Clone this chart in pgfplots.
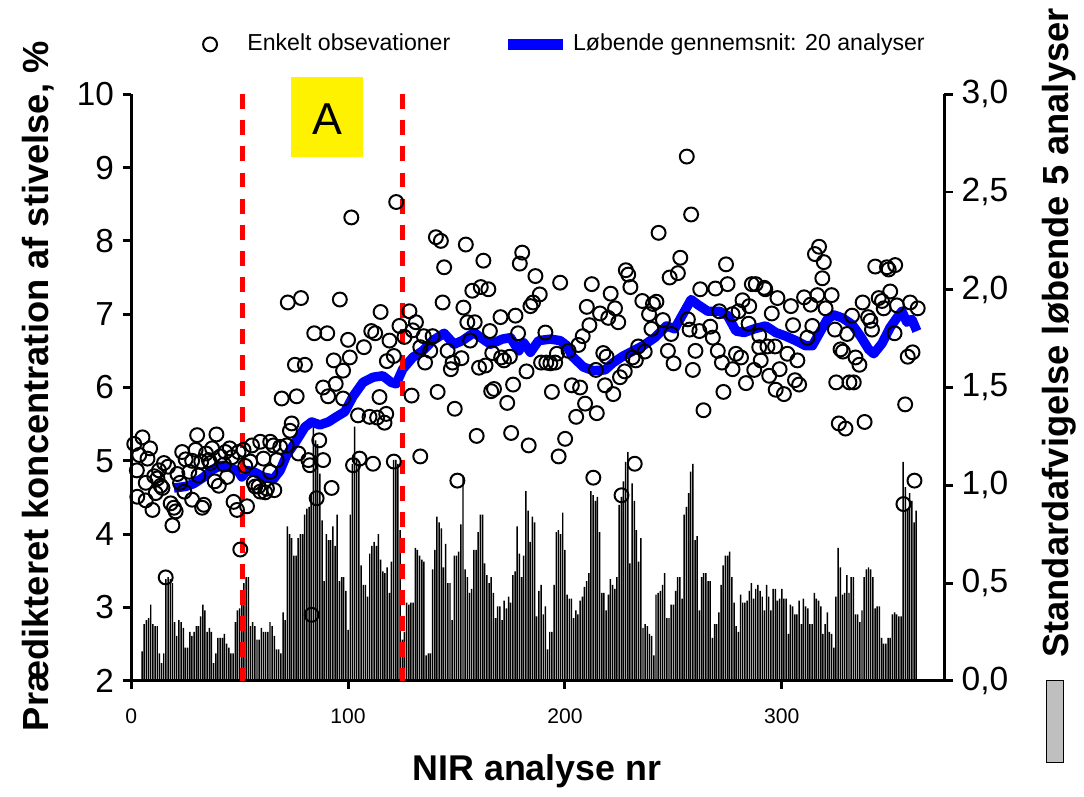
\documentclass[border=0pt]{standalone}
\usepackage{fontspec}
\setmainfont{Liberation Sans}
\usepackage{pgfplots}
\usepackage{pgfplotstable}
\pgfplotsset{compat=1.18}

\pgfplotsset{
  circlegend/.style={legend image code/.code={
    \draw[##1] plot coordinates {(0pt,0pt)};
    \path[draw=none] (-3pt,0pt) -- (13pt,0pt);}},
  linelegend/.style={legend image code/.code={
    \draw[##1, line width=4.4pt] (0pt,0pt) -- (22pt,0pt);}},
}

% enkelte observationer (analyse nr, stivelse %)
\pgfplotstableread[row sep=\\]{
x y\\
1.4 5.23\\ 2.6 4.87\\ 2.8 4.51\\ 3.7 5.08\\ 5.2 5.32\\ 6.7 4.70\\ 6.7 4.46\\ 7.5 5.03\\ 8.7 5.17\\ 9.8 4.33\\
10.6 4.79\\ 11.3 4.56\\ 12.1 4.76\\ 12.8 4.87\\ 13.6 4.66\\ 14.4 4.63\\ 15.1 4.97\\ 15.9 3.41\\ 17.0 4.92\\ 18.2 4.42\\
19.0 4.12\\ 19.7 4.36\\ 20.5 4.31\\ 21.3 4.82\\ 22.5 4.70\\ 23.5 5.12\\ 24.5 4.58\\ 25.1 5.02\\ 26.8 4.85\\ 28.1 5.00\\
28.1 4.47\\ 29.7 5.15\\ 30.4 5.35\\ 31.0 4.80\\ 32.3 4.99\\ 32.7 4.36\\ 33.5 4.40\\ 34.5 5.10\\ 35.8 5.01\\ 36.5 4.97\\
37.3 5.17\\ 38.5 4.72\\ 39.3 5.36\\ 40.4 4.66\\ 41.1 5.06\\ 42.8 4.95\\ 43.4 5.12\\ 44.2 4.78\\ 45.4 5.17\\ 46.5 5.05\\
47.2 4.44\\ 48.8 4.33\\ 49.5 5.12\\ 50.3 3.79\\ 51.8 5.15\\ 52.6 4.93\\ 53.4 4.38\\ 54.9 4.99\\ 55.7 5.21\\ 56.5 4.70\\
57.2 4.65\\ 58.7 4.65\\ 59.5 5.26\\ 59.5 4.58\\ 61.0 5.03\\ 61.8 4.57\\ 62.6 4.62\\ 64.1 5.26\\ 64.1 4.85\\ 65.6 5.21\\
66.0 4.60\\ 67.1 5.01\\ 68.7 5.19\\ 69.4 5.85\\ 71.7 5.21\\ 72.2 7.16\\ 73.2 5.41\\ 74.0 5.51\\ 75.5 6.31\\ 76.3 5.88\\
77.1 5.10\\ 78.3 7.22\\ 80.1 6.31\\ 81.7 5.01\\ 82.4 4.94\\ 83.2 2.90\\ 84.4 6.74\\ 85.5 4.49\\ 86.7 5.28\\ 88.5 6.00\\
88.5 5.01\\ 90.4 6.74\\ 90.8 5.88\\ 92.4 4.63\\ 93.4 6.37\\ 94.3 6.05\\ 96.2 7.20\\ 97.7 6.23\\ 97.7 5.85\\ 100.0 6.65\\
100.8 6.41\\ 101.5 8.32\\ 102.3 4.94\\ 104.6 5.62\\ 105.3 5.03\\ 107.3 6.55\\ 109.9 5.60\\ 110.7 6.77\\ 111.5 4.96\\ 112.5 6.74\\
113.4 5.59\\ 114.5 5.87\\ 115.0 7.03\\ 116.8 5.52\\ 117.6 5.64\\ 117.9 6.36\\ 119.1 6.64\\ 121.1 6.43\\ 121.1 4.99\\ 122.2 8.53\\
123.7 6.84\\ 126.0 6.69\\ 128.3 7.04\\ 129.3 5.89\\ 129.8 6.78\\ 131.3 6.89\\ 133.3 6.55\\ 133.3 5.06\\ 134.9 6.70\\ 135.5 6.34\\
137.9 6.50\\ 139.0 6.70\\ 140.5 8.05\\ 141.3 5.94\\ 142.8 8.00\\ 143.6 7.16\\ 144.3 7.64\\ 145.9 6.50\\ 147.4 6.25\\ 148.2 6.34\\
149.2 5.71\\ 150.4 4.73\\ 152.3 6.40\\ 153.2 7.09\\ 154.3 7.95\\ 155.0 6.89\\ 156.3 6.64\\ 157.3 7.32\\ 158.4 6.89\\ 159.3 5.34\\
160.4 6.27\\ 161.2 7.37\\ 162.4 7.73\\ 163.4 6.30\\ 164.7 7.34\\ 165.4 6.77\\ 166.0 5.95\\ 166.5 6.47\\ 167.3 5.98\\ 170.3 6.96\\
170.6 6.41\\ 171.9 6.37\\ 173.4 5.79\\ 174.6 6.42\\ 175.2 5.38\\ 176.1 6.04\\ 177.2 6.98\\ 178.4 6.74\\ 179.2 7.69\\ 180.3 7.84\\
182.3 6.22\\ 183.3 5.21\\ 184.1 7.11\\ 185.3 7.16\\ 186.4 7.52\\ 188.4 7.27\\ 189.0 6.34\\ 191.0 6.75\\ 191.4 6.34\\ 193.3 6.33\\
194.0 5.94\\ 195.5 6.34\\ 196.3 6.46\\ 197.1 5.06\\ 197.8 7.43\\ 200.1 5.30\\ 201.7 6.50\\ 203.2 6.03\\ 205.2 5.60\\ 206.2 6.58\\
207.0 6.00\\ 208.2 6.70\\ 209.3 5.78\\ 210.1 7.10\\ 211.3 6.85\\ 212.4 7.41\\ 213.1 4.77\\ 214.3 6.24\\ 214.7 5.65\\ 216.2 7.01\\
217.7 6.47\\ 218.5 6.03\\ 219.2 6.42\\ 220.0 6.95\\ 221.1 7.28\\ 222.3 5.91\\ 223.1 7.08\\ 224.6 6.89\\ 225.4 6.14\\ 226.1 4.53\\
227.6 6.22\\ 228.1 7.60\\ 229.2 7.54\\ 230.2 7.37\\ 231.2 6.41\\ 232.2 4.96\\ 232.7 6.37\\ 233.8 6.56\\ 235.7 7.18\\ 236.8 6.49\\
238.8 7.00\\ 239.9 6.80\\ 240.6 7.14\\ 242.2 7.17\\ 243.2 8.11\\ 245.2 6.92\\ 247.5 6.50\\ 248.3 7.50\\ 249.0 6.73\\ 250.1 6.33\\
252.1 7.56\\ 253.2 7.77\\ 256.2 9.15\\ 256.7 6.93\\ 257.5 6.79\\ 258.2 8.36\\ 259.0 6.24\\ 260.2 6.50\\ 262.0 6.77\\ 262.4 7.34\\
263.9 5.69\\ 267.0 6.83\\ 268.2 6.68\\ 269.4 7.35\\ 270.5 6.50\\ 271.2 7.04\\ 272.4 6.34\\ 273.1 5.94\\ 274.3 7.68\\ 275.0 7.41\\
277.3 7.00\\ 277.3 6.25\\ 278.9 6.46\\ 280.1 7.04\\ 281.2 6.41\\ 281.9 7.19\\ 283.5 6.06\\ 284.7 6.87\\ 285.0 7.11\\ 286.2 7.41\\
287.3 6.24\\ 288.0 7.41\\ 289.6 6.55\\ 289.6 6.71\\ 290.3 6.37\\ 291.9 7.36\\ 292.4 7.34\\ 293.4 6.56\\ 294.2 6.16\\ 295.4 7.01\\
296.9 6.56\\ 297.2 5.97\\ 298.0 7.22\\ 299.0 6.25\\ 301.0 5.91\\ 302.6 6.46\\ 304.2 7.11\\ 305.2 6.85\\ 306.1 6.10\\ 307.2 6.37\\
308.0 6.04\\ 310.3 7.23\\ 311.8 6.68\\ 313.3 7.13\\ 314.1 6.84\\ 315.3 7.82\\ 316.4 7.26\\ 317.2 7.92\\ 318.7 7.49\\ 319.4 7.71\\
320.2 7.08\\ 323.0 7.26\\ 324.5 6.79\\ 325.1 6.07\\ 326.3 5.51\\ 327.1 6.52\\ 328.2 6.49\\ 329.4 5.44\\ 330.1 6.73\\ 331.2 6.07\\
332.4 6.98\\ 333.2 6.07\\ 334.0 6.41\\ 335.8 6.31\\ 337.3 7.16\\ 338.2 5.53\\ 339.8 6.96\\ 340.9 6.91\\ 341.6 6.79\\ 343.1 7.65\\
344.7 7.22\\ 346.2 7.18\\ 347.0 7.08\\ 348.5 7.64\\ 349.3 7.61\\ 350.0 7.31\\ 352.0 6.74\\ 352.3 7.67\\ 353.1 7.12\\ 356.1 4.41\\
356.9 5.77\\ 358.1 6.42\\ 359.2 7.16\\ 360.3 6.48\\ 361.2 4.73\\ 362.7 7.08\\
}\obs

% løbende gennemsnit, 20 analyser
\pgfplotstableread[row sep=\\]{
x y\\
19.7 4.63\\ 25.1 4.65\\ 28.9 4.69\\ 33.5 4.78\\ 37.3 4.88\\ 41.9 4.94\\ 45.7 4.91\\ 49.5 4.85\\ 51.0 4.78\\ 53.4 4.87\\
57.2 4.84\\ 61.0 4.78\\ 65.6 4.75\\ 68.7 4.87\\ 71.7 5.08\\ 76.3 5.28\\ 80.1 5.46\\ 83.2 5.53\\ 87.0 5.49\\ 90.9 5.53\\
94.6 5.60\\ 98.5 5.67\\ 102.3 5.88\\ 106.9 6.07\\ 111.5 6.14\\ 116.0 6.16\\ 119.9 6.07\\ 122.2 6.05\\ 125.2 6.25\\ 129.8 6.41\\
134.4 6.50\\ 139.0 6.64\\ 144.3 6.74\\ 148.9 6.59\\ 152.7 6.64\\ 158.1 6.75\\ 161.2 6.68\\ 165.7 6.59\\ 171.1 6.66\\ 174.9 6.68\\
178.7 6.50\\ 181.0 6.61\\ 184.1 6.48\\ 187.9 6.64\\ 193.3 6.66\\ 197.8 6.64\\ 200.9 6.57\\ 203.2 6.43\\ 208.5 6.28\\ 213.1 6.23\\
218.5 6.24\\ 222.3 6.34\\ 226.9 6.43\\ 231.5 6.50\\ 236.0 6.57\\ 241.4 6.68\\ 246.8 6.84\\ 250.6 6.80\\ 254.4 7.00\\ 258.2 7.20\\
261.3 7.13\\ 265.9 7.04\\ 271.2 7.04\\ 275.0 6.98\\ 278.9 6.77\\ 282.7 6.75\\ 287.3 6.80\\ 292.6 6.84\\ 297.2 6.75\\ 301.9 6.70\\
306.4 6.64\\ 311.0 6.57\\ 314.1 6.57\\ 317.9 6.77\\ 321.0 6.93\\ 324.0 6.99\\ 327.9 6.95\\ 332.4 6.86\\ 336.3 6.70\\ 340.1 6.52\\
342.4 6.46\\ 346.2 6.60\\ 350.0 6.82\\ 353.1 6.95\\ 355.4 7.04\\ 357.7 6.89\\ 360.0 6.93\\ 362.3 6.77\\
}\mean

% standardafvigelse, løbende 5 analyser
\pgfplotstableread[row sep=\\]{
x y\\
5 0.15\\ 6 0.29\\ 7 0.31\\ 8 0.32\\ 9 0.39\\ 10 0.29\\ 11 0.28\\ 12 0.28\\ 13 0.14\\ 14 0.09\\
15 0.14\\ 16 0.52\\ 17 0.53\\ 18 0.52\\ 19 0.50\\ 20 0.30\\ 21 0.23\\ 22 0.31\\ 23 0.30\\ 24 0.27\\
25 0.17\\ 26 0.17\\ 27 0.25\\ 28 0.23\\ 29 0.25\\ 30 0.28\\ 31 0.28\\ 32 0.33\\ 33 0.39\\ 34 0.36\\
35 0.25\\ 36 0.27\\ 37 0.25\\ 38 0.09\\ 39 0.14\\ 40 0.22\\ 41 0.22\\ 42 0.22\\ 43 0.24\\ 44 0.19\\
45 0.17\\ 46 0.14\\ 47 0.14\\ 48 0.30\\ 49 0.36\\ 50 0.37\\ 51 0.44\\ 52 0.50\\ 53 0.53\\ 54 0.53\\
55 0.28\\ 56 0.30\\ 57 0.28\\ 58 0.21\\ 59 0.21\\ 60 0.27\\ 61 0.25\\ 62 0.25\\ 63 0.25\\ 64 0.30\\
65 0.28\\ 66 0.23\\ 67 0.16\\ 68 0.16\\ 69 0.14\\ 70 0.35\\ 71 0.31\\ 72 0.79\\ 73 0.75\\ 74 0.73\\
75 0.64\\ 76 0.64\\ 77 0.73\\ 78 0.75\\ 79 0.75\\ 80 0.85\\ 81 0.88\\ 82 0.89\\ 83 0.95\\ 84 1.34\\
85 1.23\\ 86 1.21\\ 87 1.06\\ 88 0.82\\ 89 0.51\\ 90 0.75\\ 91 0.72\\ 92 0.72\\ 93 0.79\\ 94 0.69\\
95 0.85\\ 96 0.51\\ 97 0.53\\ 98 0.53\\ 99 0.46\\ 100 0.26\\ 101 0.85\\ 102 1.11\\ 103 1.30\\ 104 1.14\\
105 1.11\\ 106 0.59\\ 107 0.49\\ 108 0.49\\ 109 0.43\\ 110 0.65\\ 111 0.69\\ 112 0.71\\ 113 0.69\\ 114 0.75\\
115 0.62\\ 116 0.56\\ 117 0.55\\ 118 0.58\\ 119 0.45\\ 120 0.61\\ 121 1.13\\ 122 1.13\\ 123 1.11\\ 124 0.77\\
125 0.21\\ 126 0.25\\ 127 0.40\\ 128 0.39\\ 129 0.40\\ 130 0.40\\ 131 0.68\\ 132 0.67\\ 133 0.64\\ 134 0.62\\
135 0.61\\ 136 0.13\\ 137 0.14\\ 138 0.14\\ 139 0.57\\ 140 0.67\\ 141 0.84\\ 142 0.81\\ 143 0.78\\ 144 0.58\\
145 0.70\\ 146 0.50\\ 147 0.50\\ 148 0.31\\ 149 0.64\\ 150 0.64\\ 151 0.66\\ 152 0.80\\ 153 1.05\\ 154 0.57\\
155 0.53\\ 156 0.45\\ 157 0.47\\ 158 0.67\\ 159 0.67\\ 160 0.76\\ 161 0.85\\ 162 0.85\\ 163 0.60\\ 164 0.54\\
165 0.50\\ 166 0.53\\ 167 0.45\\ 168 0.32\\ 169 0.38\\ 170 0.38\\ 171 0.31\\ 172 0.41\\ 173 0.37\\ 174 0.43\\
175 0.40\\ 176 0.54\\ 177 0.56\\ 178 0.79\\ 179 0.65\\ 180 0.53\\ 181 0.64\\ 182 0.97\\ 183 0.87\\ 184 0.71\\
185 0.84\\ 186 0.81\\ 187 0.33\\ 188 0.46\\ 189 0.49\\ 190 0.34\\ 191 0.38\\ 192 0.16\\ 193 0.25\\ 194 0.25\\
195 0.49\\ 196 0.76\\ 197 0.77\\ 198 0.75\\ 199 0.86\\ 200 0.67\\ 201 0.44\\ 202 0.42\\ 203 0.42\\ 204 0.32\\
205 0.36\\ 206 0.34\\ 207 0.41\\ 208 0.43\\ 209 0.48\\ 210 0.51\\ 211 0.55\\ 212 0.97\\ 213 0.95\\ 214 0.92\\
215 0.94\\ 216 0.76\\ 217 0.45\\ 218 0.45\\ 219 0.36\\ 220 0.44\\ 221 0.52\\ 222 0.49\\ 223 0.47\\ 224 0.53\\
225 0.90\\ 226 0.94\\ 227 1.02\\ 228 1.12\\ 229 1.17\\ 230 0.60\\ 231 1.01\\ 232 0.92\\ 233 0.77\\ 234 0.61\\
235 0.73\\ 236 0.27\\ 237 0.29\\ 238 0.28\\ 239 0.24\\ 240 0.23\\ 241 0.13\\ 242 0.44\\ 243 0.45\\ 244 0.46\\
245 0.49\\ 246 0.55\\ 247 0.32\\ 248 0.32\\ 249 0.39\\ 250 0.39\\ 251 0.46\\ 252 0.53\\ 253 0.53\\ 254 0.42\\
255 0.85\\ 256 0.89\\ 257 0.96\\ 258 1.07\\ 259 1.11\\ 260 0.72\\ 261 0.74\\ 262 0.36\\ 263 0.53\\ 264 0.55\\
265 0.55\\ 266 0.51\\ 267 0.51\\ 268 0.22\\ 269 0.29\\ 270 0.29\\ 271 0.35\\ 272 0.49\\ 273 0.59\\ 274 0.64\\
275 0.64\\ 276 0.66\\ 277 0.53\\ 278 0.40\\ 279 0.28\\ 280 0.25\\ 281 0.44\\ 282 0.40\\ 283 0.40\\ 284 0.41\\
285 0.46\\ 286 0.50\\ 287 0.42\\ 288 0.47\\ 289 0.49\\ 290 0.46\\ 291 0.43\\ 292 0.36\\ 293 0.49\\ 294 0.43\\
295 0.36\\ 296 0.47\\ 297 0.47\\ 298 0.41\\ 299 0.42\\ 300 0.47\\ 301 0.42\\ 302 0.42\\ 303 0.24\\ 304 0.39\\
305 0.38\\ 306 0.34\\ 307 0.34\\ 308 0.41\\ 309 0.29\\ 310 0.42\\ 311 0.38\\ 312 0.37\\ 313 0.29\\ 314 0.29\\
315 0.45\\ 316 0.42\\ 317 0.41\\ 318 0.38\\ 319 0.24\\ 320 0.29\\ 321 0.35\\ 322 0.25\\ 323 0.24\\ 324 0.17\\
325 0.43\\ 326 0.68\\ 327 0.58\\ 328 0.44\\ 329 0.45\\ 330 0.54\\ 331 0.45\\ 332 0.53\\ 333 0.53\\ 334 0.34\\
335 0.34\\ 336 0.30\\ 337 0.36\\ 338 0.53\\ 339 0.57\\ 340 0.58\\ 341 0.57\\ 342 0.53\\ 343 0.37\\ 344 0.38\\
345 0.38\\ 346 0.22\\ 347 0.19\\ 348 0.19\\ 349 0.22\\ 350 0.22\\ 351 0.34\\ 352 0.35\\ 353 0.34\\ 354 0.33\\
355 0.33\\ 356 1.12\\ 357 0.99\\ 358 0.88\\ 359 0.96\\ 360 0.92\\ 361 0.81\\ 362 0.87\\
}\sd

\begin{document}
\begin{tikzpicture}
\pgfplotsset{
  base/.style={
    scale only axis, width=327.2pt, height=236pt,
    at={(0,0)}, anchor=south west,
    xmin=0, xmax=375,
    axis line style={line width=1.2pt, -},
    tick style={line width=1.2pt, black},
    major tick length=3.4pt, tick align=outside,
    /pgf/number format/assume math mode=true,
  }
}

% hoejre akse: standardafvigelse (soejler)
\begin{axis}[base,
  axis x line=none, axis y line*=right,
  ymin=0, ymax=3,
  ytick={0,0.5,1,1.5,2,2.5,3},
  yticklabel style={font=\fontsize{13.5}{15}\selectfont,
    /pgf/number format/.cd, fixed, fixed zerofill, precision=1, use comma},
  ylabel={Standardafvigelse løbende 5 analyser},
  ylabel style={font=\bfseries\fontsize{14.6}{16}\selectfont,
    at={(axis description cs:1.1406,0.593)}, anchor=center},
]
\addplot[ybar, bar width=0.68, fill=black, draw=none] table {\sd};
\end{axis}

% venstre akse: observationer og glidende gennemsnit
\begin{axis}[base,
  axis x line*=bottom, axis y line*=left,
  ymin=2, ymax=10, ytick={2,3,...,10},
  xtick={0,100,200,300},
  clip=false,
  yticklabel style={font=\fontsize{13.4}{15}\selectfont},
  xticklabel style={font=\fontsize{8.5}{10}\selectfont, yshift=-4.5pt},
  xlabel={NIR analyse nr},
  xlabel style={font=\bfseries\fontsize{14.4}{16}\selectfont,
    at={(axis description cs:0.499,-0.155)}, anchor=center},
  ylabel={Prædikteret koncentration af stivelse, \%},
  ylabel style={font=\bfseries\fontsize{14.6}{16}\selectfont,
    at={(axis description cs:-0.115,0.502)}, anchor=center},
  legend columns=2,
  legend style={draw=none, fill=none, font=\fontsize{9.3}{11}\selectfont,
    at={(axis description cs:0.078,1.085)}, anchor=west,
    /tikz/every even column/.append style={column sep=19pt}},
]
\addplot[only marks, mark=o, mark size=2.8pt, mark options={line width=0.8pt, black},
  circlegend] table {\obs};
\addlegendentry{Enkelt obsevationer}
\addplot[blue, line width=3.8pt, line join=round, linelegend] table {\mean};
\addlegendentry{Løbende gennemsnit: 20 analyser}

\addplot[red, line width=2.2pt, dash pattern=on 6pt off 4.5pt, forget plot]
  coordinates {(51.4,10) (51.4,2)};
\addplot[red, line width=2.2pt, dash pattern=on 6pt off 4.5pt, forget plot]
  coordinates {(125.2,10) (125.2,2)};

\fill[yellow] (axis cs:73.9,10.23) rectangle (axis cs:106.9,9.15);
\node[font=\fontsize{18}{20}\selectfont] at (axis cs:90.4,9.66) {A};
\end{axis}

% graa forklaringsboks for soejlerne
\draw[line width=0.5pt, fill=black!25] (368.4pt,-32.8pt) rectangle (375.2pt,0pt);
% laerredets ramme
\path (-52.8pt,-42pt) rectangle (380.8pt,272.8pt);
\end{tikzpicture}
\end{document}
